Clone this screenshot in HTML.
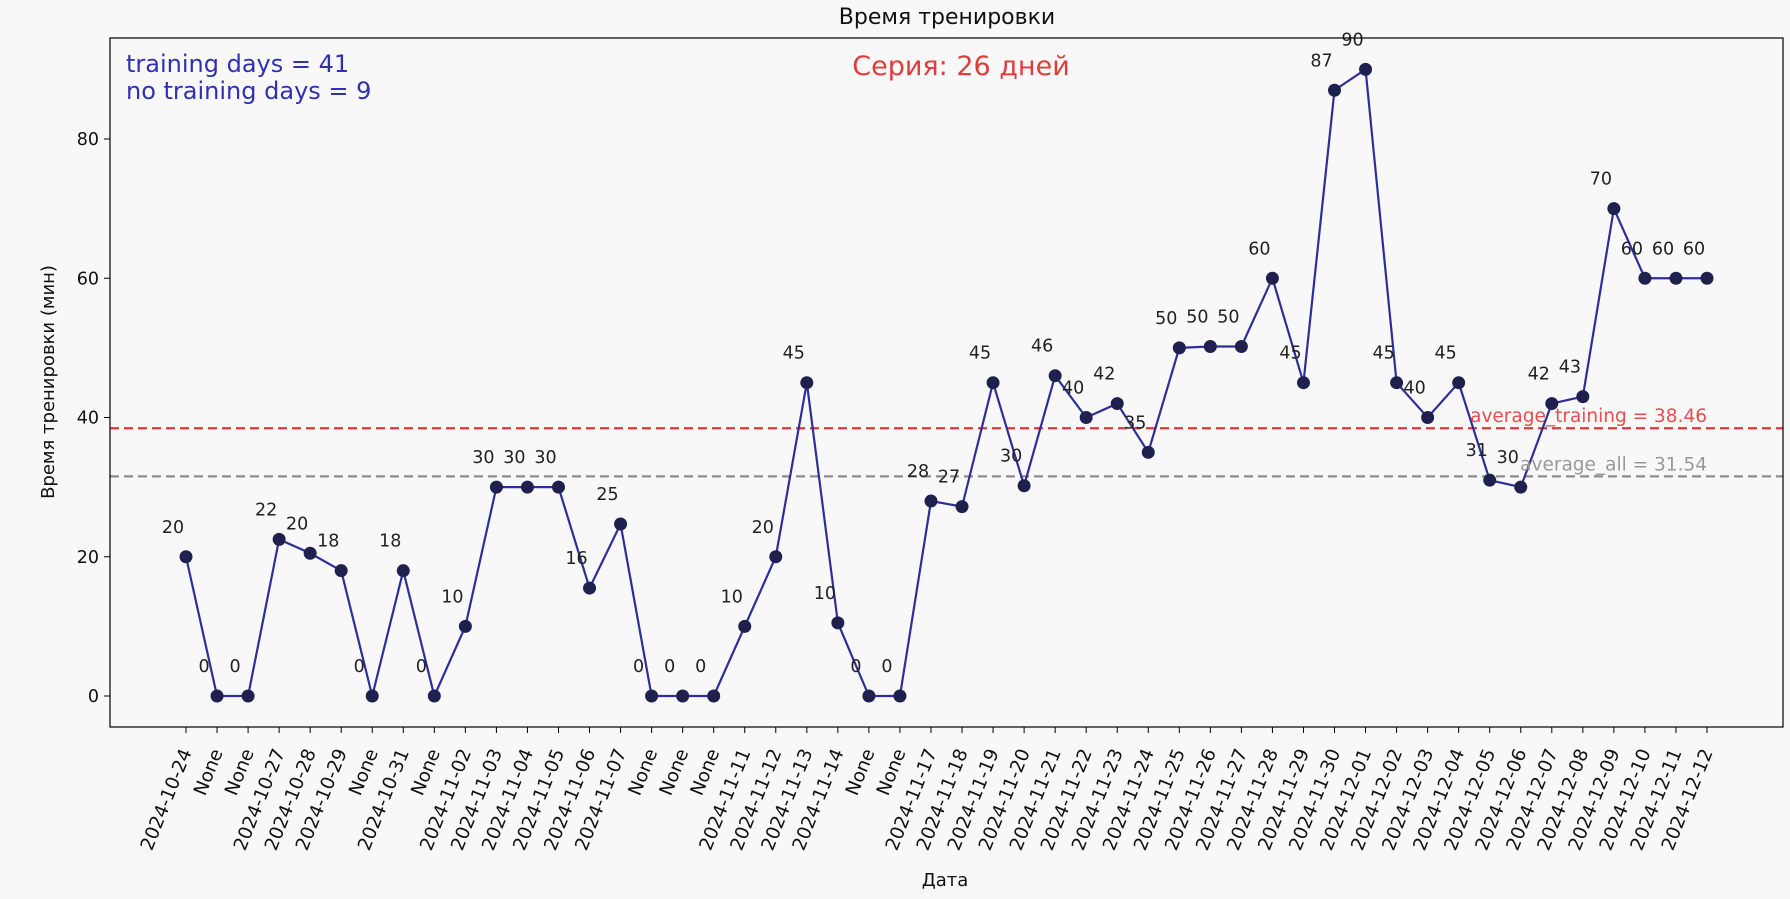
<!DOCTYPE html>
<html><head><meta charset="utf-8"><style>
body{margin:0;background:#f8f8f8;}
svg{display:block;font-family:"DejaVu Sans","Liberation Sans",sans-serif;}
</style></head><body>
<svg id="chart" width="1790" height="899" viewBox="0 0 1790 899">
<rect x="0" y="0" width="1790" height="899" fill="#f8f8f8"/>
<g id="grid"></g>
<g id="lines"></g>
<g id="marks"></g>
<g id="labels"></g>
<rect x="110" y="38" width="1673" height="689" fill="none" stroke="#000" stroke-width="1.2"/>
<text x="947" y="24" text-anchor="middle" font-size="22" fill="#111">Время тренировки</text>
<text x="961" y="75" text-anchor="middle" font-size="27" fill="#e03c3c">Серия: 26 дней</text>
<text x="126" y="72" font-size="24" fill="#3030b0">training days = 41</text>
<text x="126" y="99" font-size="24" fill="#3030b0">no training days = 9</text>
<text x="54" y="382" text-anchor="middle" font-size="18" fill="#111" transform="rotate(-90 54 382)">Время тренировки (мин)</text>
<text x="945" y="886" text-anchor="middle" font-size="18" fill="#111">Дата</text>
</svg>
<script>
const categories=["2024-10-24","None","None","2024-10-27","2024-10-28","2024-10-29","None","2024-10-31","None","2024-11-02","2024-11-03","2024-11-04","2024-11-05","2024-11-06","2024-11-07","None","None","None","2024-11-11","2024-11-12","2024-11-13","2024-11-14","None","None","2024-11-17","2024-11-18","2024-11-19","2024-11-20","2024-11-21","2024-11-22","2024-11-23","2024-11-24","2024-11-25","2024-11-26","2024-11-27","2024-11-28","2024-11-29","2024-11-30","2024-12-01","2024-12-02","2024-12-03","2024-12-04","2024-12-05","2024-12-06","2024-12-07","2024-12-08","2024-12-09","2024-12-10","2024-12-11","2024-12-12"];
const values=[20,0,0,22.5,20.5,18,0,18,0,10,30,30,30,15.5,24.7,0,0,0,10,20,45,10.5,0,0,28,27.2,45,30.2,46,40,42,35,50,50.2,50.2,60,45,87,90,45,40,45,31,30,42,43,70,60,60,60];
const pointLabels=["20","0","0","22","20","18","0","18","0","10","30","30","30","16","25","0","0","0","10","20","45","10","0","0","28","27","45","30","46","40","42","35","50","50","50","60","45","87","90","45","40","45","31","30","42","43","70","60","60","60"];
const yTicks=[0,20,40,60,80];
const avgTraining=38.46;
const avgAll=31.54;
const NS="http://www.w3.org/2000/svg";
const X0=186,X1=1707,Y0=696,PXU=(696-139)/80;
function xs(i){return X0+i*(X1-X0)/(categories.length-1);}
function ys(v){return Y0-v*PXU;}
function mk(tag,attrs,parent,txt){const e=document.createElementNS(NS,tag);for(const k in attrs)e.setAttribute(k,attrs[k]);if(txt!==undefined)e.textContent=txt;document.getElementById(parent).appendChild(e);return e;}
yTicks.forEach(t=>{
  const l=mk('line',{x1:104,x2:110,y1:ys(t),y2:ys(t),stroke:'#000'},'grid');
  
  
  const tx=mk('text',{x:99,y:ys(t)+6,'text-anchor':'end','font-size':17.5,fill:'#111'},'grid',String(t));
  
  
});
categories.forEach((c,i)=>{
  const x=xs(i);
  const l=mk('line',{x1:x,x2:x,y1:727,y2:733,stroke:'#000'},'grid');
  
  
  const ax=x+6, ay=752;
  const tx=mk('text',{x:ax,y:ay,'text-anchor':'end','font-size':18.5,fill:'#111',transform:`rotate(-68 ${ax} ${ay})`},'grid',c);
  
  
});
const a1=mk('line',{x1:110,x2:1783,y1:ys(avgTraining),y2:ys(avgTraining),stroke:'#d9383c','stroke-width':2.2,'stroke-dasharray':'9,5'},'lines');


const a2=mk('line',{x1:110,x2:1783,y1:ys(avgAll),y2:ys(avgAll),stroke:'#8c8c8c','stroke-width':2.2,'stroke-dasharray':'9,5'},'lines');


const t1=mk('text',{x:xs(categories.length-1),y:ys(avgTraining)-6,'text-anchor':'end','font-size':18.5,fill:'#e8383c','fill-opacity':0.9},'labels','average_training = '+avgTraining.toFixed(2));


const t2=mk('text',{x:xs(categories.length-1),y:ys(avgAll)-6,'text-anchor':'end','font-size':18.5,fill:'#999'},'labels','average_all = '+avgAll.toFixed(2));


const pl=mk('polyline',{points:values.map((v,i)=>xs(i)+','+ys(v)).join(' '),fill:'none',stroke:'#2e2e9a','stroke-width':2.2},'lines');


values.forEach((v,i)=>{
  const c=mk('circle',{cx:xs(i),cy:ys(v),r:6.5,fill:'#20204e'},'marks');
  
  
  const t=mk('text',{x:xs(i)-13,y:ys(v)-24,'text-anchor':'middle','font-size':17.5,fill:'#222'},'labels',pointLabels[i]);
  
  
});
</script>
</body></html>
